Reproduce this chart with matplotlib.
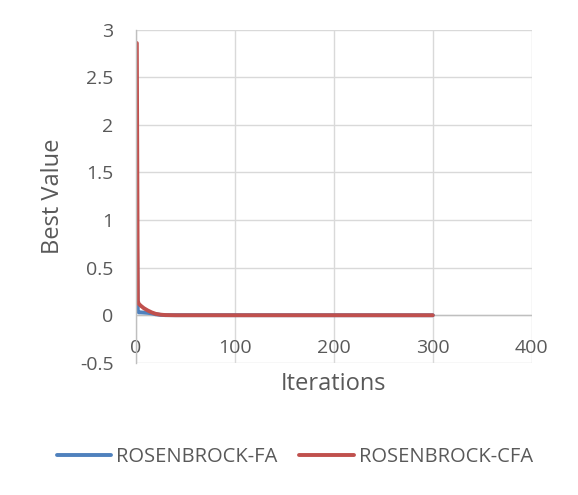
import matplotlib.pyplot as plt

# iterations and best values
iters_fa = [1, 2, 3, 5, 8, 12, 16, 20, 25, 30, 300]
best_fa = [0.93, 0.05, 0.03, 0.03, 0.028, 0.025, 0.02, 0.01, 0.004, 0.001, 0.0]

iters_cfa = [1, 2, 3, 5, 8, 12, 16, 20, 25, 30, 40, 300]
best_cfa = [2.86, 0.15, 0.12, 0.10, 0.075, 0.05, 0.03, 0.015, 0.006, 0.002, 0.0, 0.0]

xticks = [0, 100, 200, 300, 400]
yticks = [-0.5, 0, 0.5, 1, 1.5, 2, 2.5, 3]
ytick_labels = ['-0.5', '0', '0.5', '1', '1.5', '2', '2.5', '3']

txt = '#595959'
grid = '#D9D9D9'

plt.rcParams['font.family'] = ['Open Sans', 'DejaVu Sans']

fig = plt.figure(figsize=(5.78, 4.95), dpi=100)
ax = fig.add_axes([0.235, 0.267, 0.685, 0.673])

ax.plot(iters_fa, best_fa, color='#4F81BD', lw=2.8, label='ROSENBROCK-FA',
        solid_capstyle='round')
ax.plot(iters_cfa, best_cfa, color='#C0504D', lw=2.8, label='ROSENBROCK-CFA',
        solid_capstyle='round')

ax.set_xlim(0, 400)
ax.set_ylim(-0.5, 3)
ax.set_xticks(xticks)
ax.set_yticks(yticks)
ax.set_yticklabels(ytick_labels)
ax.grid(True, color=grid, lw=1)
ax.set_axisbelow(True)
for s in ['top', 'right', 'bottom']:
    ax.spines[s].set_visible(False)
ax.spines['left'].set_color('#BFBFBF')
ax.spines['left'].set_linewidth(1)
ax.axhline(0, color='#BFBFBF', lw=1, zorder=1)
ax.tick_params(axis='both', length=0, labelsize=14, colors=txt)
ax.tick_params(axis='y', pad=16)
# excel puts the category labels right under the zero line
ax.tick_params(axis='x', pad=-17)

fig.text(0.5 * (0.235 + 0.92), 1 - 384 / 495, 'Iterations', fontsize=17,
         color=txt, ha='center', va='center')
fig.text(53 / 578, 0.267 + 0.673 / 2, 'Best Value', fontsize=17, color=txt,
         ha='center', va='center', rotation=90)

fig.legend(loc='center', bbox_to_anchor=(0.51, 0.077), ncol=2, frameon=False,
           fontsize=14.5, labelcolor=txt, handlelength=2.7, columnspacing=1.1,
           handletextpad=0.25)

fig.savefig('out.png', dpi=100)
